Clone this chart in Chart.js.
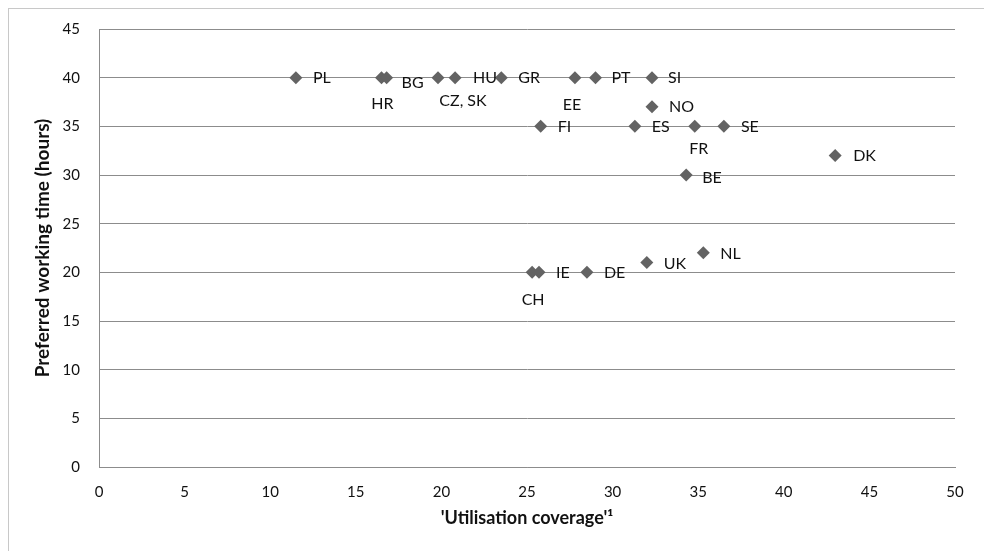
<!DOCTYPE html>
<html>
<head>
<meta charset="utf-8">
<script src="https://cdn.jsdelivr.net/npm/chart.js@4/dist/chart.umd.min.js"></script>
<style>
html,body{margin:0;padding:0;background:#fff;}
#wrap{width:984px;height:551px;position:relative;}
</style>
</head>
<body>
<div id="wrap"><canvas id="c" width="984" height="551"></canvas></div>
<script>
// Data
const countries = ['PL','HR','BG','CZ, SK','HU','GR','EE','PT','SI','NO','FI','ES','FR','SE','DK','BE','CH','IE','DE','UK','NL'];
const utilisationCoverage = [11.5,16.5,16.8,19.8,20.8,23.5,27.8,29.0,32.3,32.3,25.8,31.3,34.8,36.5,43.0,34.3,25.3,25.7,28.5,32.0,35.3];
const preferredHours = [40,40,40,40,40,40,40,40,40,37,35,35,35,35,32,30,20,20,20,21,22];
const xTicks = [0,5,10,15,20,25,30,35,40,45,50];
const yTicks = [0,5,10,15,20,25,30,35,40,45];

// Label placement (text only): side and pixel offset
const labelPlacement = {
  'PL':['r',17,0],'HR':['b',1,26],'BG':['r',15,5],'CZ, SK':['b',25,23],'HU':['r',18,0],
  'GR':['r',17,0],'EE':['b',-3,27],'PT':['r',16,0],'SI':['r',16,0],'NO':['r',17,0],
  'FI':['r',17,1],'ES':['r',17,1],'FR':['b',4,23],'SE':['r',17,1],'DK':['r',18,0],
  'BE':['r',16,3],'CH':['b',1,28],'IE':['r',17,1],'DE':['r',17,1],'UK':['r',17,1],'NL':['r',17,1]
};

const FONT = 'Lato, "Open Sans", sans-serif';

const frame = {
  id:'frame',
  beforeDraw(chart){
    const ctx = chart.ctx;
    ctx.save();
    ctx.fillStyle = '#fff';
    ctx.fillRect(0,0,chart.width,chart.height);
    ctx.strokeStyle = '#c8c8c8';
    ctx.lineWidth = 1;
    ctx.strokeRect(8.5,8.5,1200,1200);
    ctx.restore();
  }
};

const labels = {
  id:'pointLabels',
  afterDatasetsDraw(chart){
    const ctx = chart.ctx;
    const meta = chart.getDatasetMeta(0);
    ctx.save();
    ctx.font = '16px ' + FONT;
    ctx.fillStyle = '#111';
    ctx.textBaseline = 'middle';
    meta.data.forEach((pt,i)=>{
      const name = countries[i];
      const p = labelPlacement[name] || ['r',17,0];
      ctx.textAlign = p[0]==='r' ? 'left' : 'center';
      ctx.fillText(name, pt.x + p[1], pt.y + p[2]);
    });
    ctx.restore();
  }
};

const points = utilisationCoverage.map((x,i)=>({x:x, y:preferredHours[i]}));

new Chart(document.getElementById('c'), {
  type:'scatter',
  data:{ datasets:[{
    data: points,
    pointStyle:'rectRot',
    pointRadius:6.5,
    pointHoverRadius:6.5,
    backgroundColor:'#636363',
    borderColor:'#636363',
    borderWidth:0
  }]},
  options:{
    responsive:false,
    animation:false,
    events:[],
    layout:{padding:{left:0,top:29,right:29,bottom:0}},
    plugins:{legend:{display:false},tooltip:{enabled:false}},
    scales:{
      x:{
        type:'linear', min:0, max:50,
        afterBuildTicks(s){ s.ticks = xTicks.map(v=>({value:v})); },
        afterFit(s){ s.height = 84; },
        grid:{display:false, drawTicks:false},
        border:{display:true, color:'#8c8c8c', width:1},
        ticks:{ padding:16, color:'#111', font:{family:FONT, size:15}, maxRotation:0 },
        title:{ display:true, text:"'Utilisation coverage'\u00B9", color:'#111',
          font:{family:FONT, size:18, weight:'bold'}, padding:{top:0,bottom:22.2} }
      },
      y:{
        type:'linear', min:0, max:45,
        afterBuildTicks(s){ s.ticks = yTicks.map(v=>({value:v})); },
        afterFit(s){ s.width = 99; },
        grid:{ color:'#8c8c8c', lineWidth:1, drawTicks:false },
        border:{display:true, color:'#8c8c8c', width:1},
        ticks:{ padding:19, color:'#111', font:{family:FONT, size:15} },
        title:{ display:true, text:'Preferred working time (hours)', color:'#111',
          font:{family:FONT, size:19, weight:'bold'}, padding:{top:31.6,bottom:0} }
      }
    }
  },
  plugins:[frame, labels]
});
</script>
</body>
</html>
